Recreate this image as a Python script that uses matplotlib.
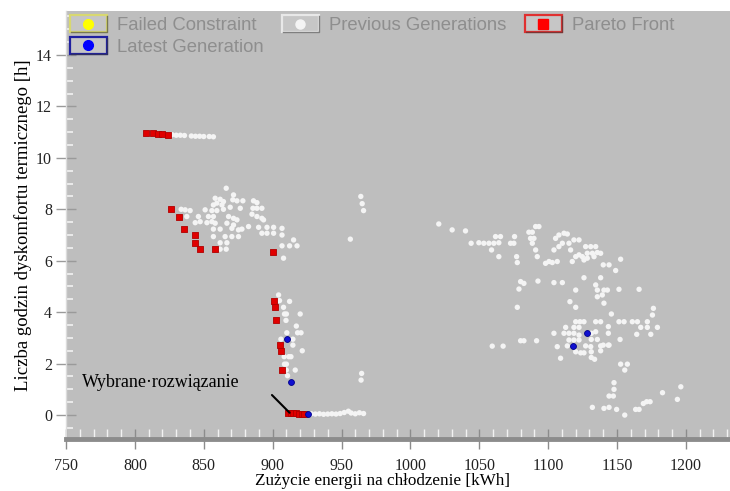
import matplotlib
matplotlib.use("Agg")
import matplotlib.pyplot as plt
from matplotlib.legend_handler import HandlerBase
from matplotlib.lines import Line2D
from matplotlib.patches import Rectangle
from matplotlib.ticker import MultipleLocator

# Pareto front (red squares)
pareto_x = [808, 813, 817, 820, 824,
            826.1, 831.9, 835.8, 844.0, 844.0, 847.6, 857.8, 900.2,
            900.9, 901.8, 902.6, 905.0, 906.0, 907.0,
            911, 913, 915, 917, 919, 921, 923]
pareto_y = [10.95, 10.95, 10.93, 10.91, 10.88,
            8.00, 7.71, 7.22, 6.99, 6.70, 6.45, 6.45, 6.35,
            4.42, 4.19, 3.68, 2.74, 2.50, 1.76,
            0.10, 0.09, 0.08, 0.07, 0.06, 0.05, 0.04]

# Latest generation (blue dots)
latest_x = [910.6, 913.0, 926.0, 1127.9, 1117.7]
latest_y = [2.95, 1.30, 0.04, 3.18, 2.68]

# Failed constraint (none in this run)
failed_x = []
failed_y = []

# Previous generations (light dots)
prev_x = [
    # top row
    827, 830, 833, 836, 841, 844, 847, 850, 854, 857,
    # cluster around 830-920 kWh
    866.3, 858.3, 861.9, 864.3, 859.5, 857.0, 863.2, 871.6, 871.1, 874.1,
    878.4, 886.1, 888.6, 833.6, 836.5, 840.1, 837.7, 851.0, 855.9, 859.5,
    864.3, 869.2, 876.5, 885.7, 888.6, 892.2, 846.1, 853.4, 857.0, 868.0,
    871.6, 874.1, 885.0, 888.6, 892.2, 893.4, 843.8, 847.4, 852.3, 855.9,
    858.3, 866.8, 871.6, 882.5, 889.8, 895.9, 900.7, 906.8, 857.0, 861.9,
    870.4, 875.2, 877.7, 892.2, 895.9, 900.7, 906.8, 857.0, 865.5, 870.4,
    875.2, 915.2, 861.9, 866.8, 906.8, 912.3, 917.7, 861.9, 866.3, 907.9,
    956.4, 964, 965, 966,
    # vertical branch near 910 kWh
    904.3, 905.0, 912.3, 907.9, 908.6, 910.0, 920.0, 909.7, 917.2, 910.3,
    918.1, 920.6, 914.7, 906.0, 914.7, 921.5, 908.4, 911.8, 913.3, 908.6,
    910.0, 916.4, 909.9, 910.8, 964.6, 964.2,
    # tail along zero hours
    928, 931, 934, 937, 940, 943, 946, 949, 952, 955, 957, 960, 963, 966,
    # right cluster
    1020.6, 1030.3, 1040.0, 1044.1, 1049.7, 1053.3, 1057.0, 1061.8, 1065.4,
    1060.6, 1064.2, 1058.9, 1064.2, 1072.7, 1075.1, 1075.6, 1077.1, 1077.6,
    1086.0, 1088.5, 1090.9, 1093.3, 1087.2, 1089.7, 1088.5, 1090.9, 1092.1,
    1098.1, 1100.6, 1103.0, 1106.6, 1104.2, 1107.8, 1110.3, 1105.4, 1107.8,
    1111.5, 1113.9, 1115.1, 1116.3, 1117.5, 1118.7, 1122.4, 1120.0, 1122.4,
    1124.8, 1126.0, 1127.2, 1130.9, 1134.5, 1128.4, 1132.1, 1135.7, 1128.4,
    1133.3, 1138.1, 1140.0, 1144.2, 1149.0, 1152.6, 1080.0, 1082.4, 1078.8,
    1077.6, 1092.6, 1104.2, 1110.3, 1120.0, 1115.8, 1120.0, 1126.0, 1134.5,
    1135.7, 1140.5, 1143.0, 1135.7, 1139.3, 1138.1, 1140.5, 1151.4, 1166.0,
    1145.9, 1151.4, 1155.1, 1161.1, 1164.8, 1167.2, 1172.0, 1179.3, 1172.0,
    1175.7, 1176.4, 1164.3, 1174.5, 1152.2, 1143.7, 1143.7, 1143.7, 1104.2,
    1059.4, 1067.3, 1080.0, 1082.4, 1091.6, 1120.0, 1123.1, 1126.0, 1134.5,
    1138.1, 1112.7, 1118.7, 1122.4, 1111.5, 1115.1, 1118.7, 1122.4, 1131.3,
    1134.5, 1115.1, 1118.7, 1122.4, 1131.3, 1135.7, 1106.6, 1113.9, 1127.2,
    1130.9, 1138.1, 1140.0, 1144.2, 1120.0, 1123.6, 1126.0, 1131.3, 1138.1,
    1109.0, 1131.3, 1133.7, 1152.6, 1157.5, 1155.6, 1147.8, 1147.8, 1144.2,
    1147.3, 1196.3, 1183.0, 1193.8, 1132.1, 1140.5, 1144.2, 1149.7, 1155.6,
    1163.5, 1166.0, 1169.1, 1171.5, 1174.0,
]
prev_y = [
    10.90, 10.88, 10.88, 10.87, 10.85, 10.84, 10.84, 10.83, 10.83, 10.82,
    8.82, 8.43, 8.39, 8.30, 8.24, 8.17, 8.17, 8.56, 8.37, 8.33,
    8.33, 8.33, 8.26, 8.00, 7.98, 7.95, 7.72, 7.98, 7.95, 7.95,
    8.00, 8.08, 8.04, 8.04, 8.04, 8.04, 7.72, 7.72, 7.72, 7.72,
    7.65, 7.59, 7.81, 7.72, 7.65, 7.59, 7.48, 7.52, 7.48, 7.52,
    7.46, 7.46, 7.39, 7.33, 7.30, 7.30, 7.30, 7.26, 7.23, 7.23,
    7.26, 7.20, 7.23, 7.07, 7.07, 7.07, 7.00, 6.94, 6.94, 6.94,
    6.94, 6.81, 6.70, 6.70, 6.58, 6.58, 6.58, 6.45, 6.45, 6.10,
    6.84, 8.50, 8.22, 7.95,
    4.67, 4.45, 4.42, 4.19, 3.93, 3.93, 3.93, 3.68, 3.46, 3.20,
    3.20, 3.20, 2.95, 2.95, 2.72, 2.50, 2.27, 2.27, 2.27, 1.98,
    1.98, 1.75, 1.75, 1.53, 1.62, 1.36,
    0.05, 0.04, 0.05, 0.03, 0.04, 0.05, 0.04, 0.06, 0.10, 0.15, 0.08, 0.05, 0.09, 0.06,
    7.43, 7.20, 7.16, 6.68, 6.70, 6.68, 6.68, 6.94, 6.94,
    6.68, 6.70, 6.42, 6.16, 6.68, 6.68, 6.94, 6.16, 5.93,
    7.11, 7.11, 7.33, 7.33, 6.87, 6.87, 6.68, 6.42, 6.16,
    5.90, 5.97, 5.93, 5.97, 6.42, 6.55, 6.68, 6.87, 7.00,
    7.07, 7.04, 6.68, 6.42, 5.97, 6.81, 6.81, 6.16, 6.23,
    6.16, 6.03, 6.55, 6.55, 6.55, 6.29, 6.29, 6.32, 6.10,
    6.16, 6.29, 5.84, 5.84, 5.62, 6.06, 5.19, 5.12, 4.90,
    4.19, 5.21, 5.15, 5.15, 4.86, 4.41, 4.19, 5.34, 5.06,
    4.86, 4.86, 4.86, 4.60, 4.67, 5.34, 4.35, 4.89, 4.89,
    3.93, 3.63, 3.63, 3.63, 3.63, 3.41, 3.41, 3.41, 3.63,
    3.89, 4.15, 3.14, 3.14, 2.94, 3.44, 3.18, 2.72, 3.18,
    2.68, 2.68, 2.89, 2.89, 2.89, 3.63, 3.63, 3.63, 3.63,
    3.63, 3.41, 3.41, 3.41, 3.18, 3.18, 3.18, 3.11, 3.18,
    3.24, 2.92, 2.92, 2.92, 2.94, 2.94, 2.66, 2.69, 2.69,
    2.66, 2.69, 2.72, 2.72, 2.46, 2.42, 2.42, 2.46, 2.50,
    2.21, 2.24, 2.17, 1.98, 1.98, 1.75, 1.26, 1.00, 0.74,
    0.74, 1.10, 0.87, 0.61, 0.30, 0.26, 0.30, 0.22, 0.00,
    0.22, 0.22, 0.45, 0.52, 0.52,
]

chosen_xy = (912.3, 0.09)
chosen_text_xy = (761.9, 1.28)
line_start = (899.5, 0.78)


class BoxHandler(HandlerBase):
    # legend key drawn as a small bevelled box with a marker inside
    def __init__(self, edge, marker, color, ms):
        super().__init__()
        self.edge = edge
        self.marker = marker
        self.color = color
        self.ms = ms

    def create_artists(self, legend, orig_handle, xdescent, ydescent,
                       width, height, fontsize, trans):
        x0, y0 = -xdescent, -ydescent
        box = Rectangle((x0, y0), width, height, facecolor='#c6c6c6',
                        edgecolor=self.edge, lw=1.6, transform=trans)
        shade = Line2D([x0 + 1, x0 + width, x0 + width],
                       [y0, y0, y0 + height - 1], color='#3a3a3a',
                       lw=1.0, alpha=0.6, transform=trans)
        dot = Line2D([x0 + width / 2], [y0 + height / 2], marker=self.marker,
                     color=self.color, ms=self.ms, mec=self.color,
                     ls='none', transform=trans)
        return [box, shade, dot]


fig = plt.figure(figsize=(7.3, 4.91), dpi=100)
ax = fig.add_axes([66 / 730, 1 - 439 / 491, 1 - 66 / 730, (439 - 11) / 491])
ax.set_facecolor('#bebebe')

h_prev = ax.scatter(prev_x, prev_y, s=15, c='#f4f4f4', edgecolors='none', zorder=2)
h_failed = ax.scatter(failed_x, failed_y, s=14, c='#ffff00', edgecolors='none', zorder=2)
h_pareto = ax.scatter(pareto_x, pareto_y, s=17, marker='s', c='#e00000',
                      edgecolors='#b00000', linewidths=0.6, zorder=3)
h_latest = ax.scatter(latest_x, latest_y, s=18, c='#1010d0',
                      edgecolors='#00008a', linewidths=0.6, zorder=4)

ax.annotate('', xy=chosen_xy, xytext=line_start,
            arrowprops=dict(arrowstyle='-', color='black', lw=1.5, shrinkA=0, shrinkB=0),
            zorder=5)
ax.text(chosen_text_xy[0], chosen_text_xy[1], 'Wybrane·rozwiązanie',
        family='Liberation Serif', fontsize=13, va='center', ha='left', color='black')

ax.set_xlim(750, 1232)
ax.set_ylim(-0.93, 15.71)

ax.xaxis.set_major_locator(MultipleLocator(50))
ax.xaxis.set_minor_locator(MultipleLocator(10))
ax.yaxis.set_major_locator(MultipleLocator(2))
ax.yaxis.set_minor_locator(MultipleLocator(0.5))

for s in ['top', 'right']:
    ax.spines[s].set_visible(False)
ax.spines['left'].set_color('#dcdcdc')
ax.spines['left'].set_linewidth(1.0)
ax.spines['bottom'].set_color('#8c8c8c')
ax.spines['bottom'].set_linewidth(3.5)

ax.tick_params(axis='x', which='major', direction='inout', length=15, width=1,
               color='#8c8c8c', pad=6)
ax.tick_params(axis='x', which='minor', direction='in', length=7, width=1,
               color='#f2f2f2')
ax.tick_params(axis='y', which='major', direction='inout', length=14, width=1,
               color='#9a9a9a', pad=3)
ax.tick_params(axis='y', which='minor', direction='in', length=5, width=1.2,
               color='#f2f2f2')
for lab in ax.get_xticklabels() + ax.get_yticklabels():
    lab.set_family('Liberation Serif')
    lab.set_fontsize(11.5)
    lab.set_color('#222222')

ax.set_xlabel('Zużycie energii na chłodzenie [kWh]', family='Liberation Serif',
              fontsize=12.3)
ax.xaxis.set_label_coords(0.477, -0.08)
ax.set_ylabel('Liczba godzin dyskomfortu termicznego [h]', family='Liberation Serif',
              fontsize=13.5, labelpad=3)

handles = [h_failed, h_latest, h_prev, h_pareto]
labels = ['Failed Constraint', 'Latest Generation', 'Previous Generations', 'Pareto Front']
hmap = {
    h_failed: BoxHandler('#d8d870', 'o', '#ffff00', 7),
    h_latest: BoxHandler('#2020a0', 'o', '#0000ff', 7),
    h_prev: BoxHandler('#e8e8e8', 'o', '#f4f4f4', 6.5),
    h_pareto: BoxHandler('#e03030', 's', '#ff0000', 7),
}
ax.legend(handles, labels, handler_map=hmap, ncol=3, loc='upper left',
          bbox_to_anchor=(0, 1), borderaxespad=0, borderpad=0.2, frameon=False,
          prop={'family': 'Liberation Sans', 'size': 13.3}, labelcolor='#8e8e8e',
          handlelength=2.0, handleheight=1.1, handletextpad=0.55,
          labelspacing=0.15, columnspacing=1.0)

fig.savefig('out.png', dpi=100)
